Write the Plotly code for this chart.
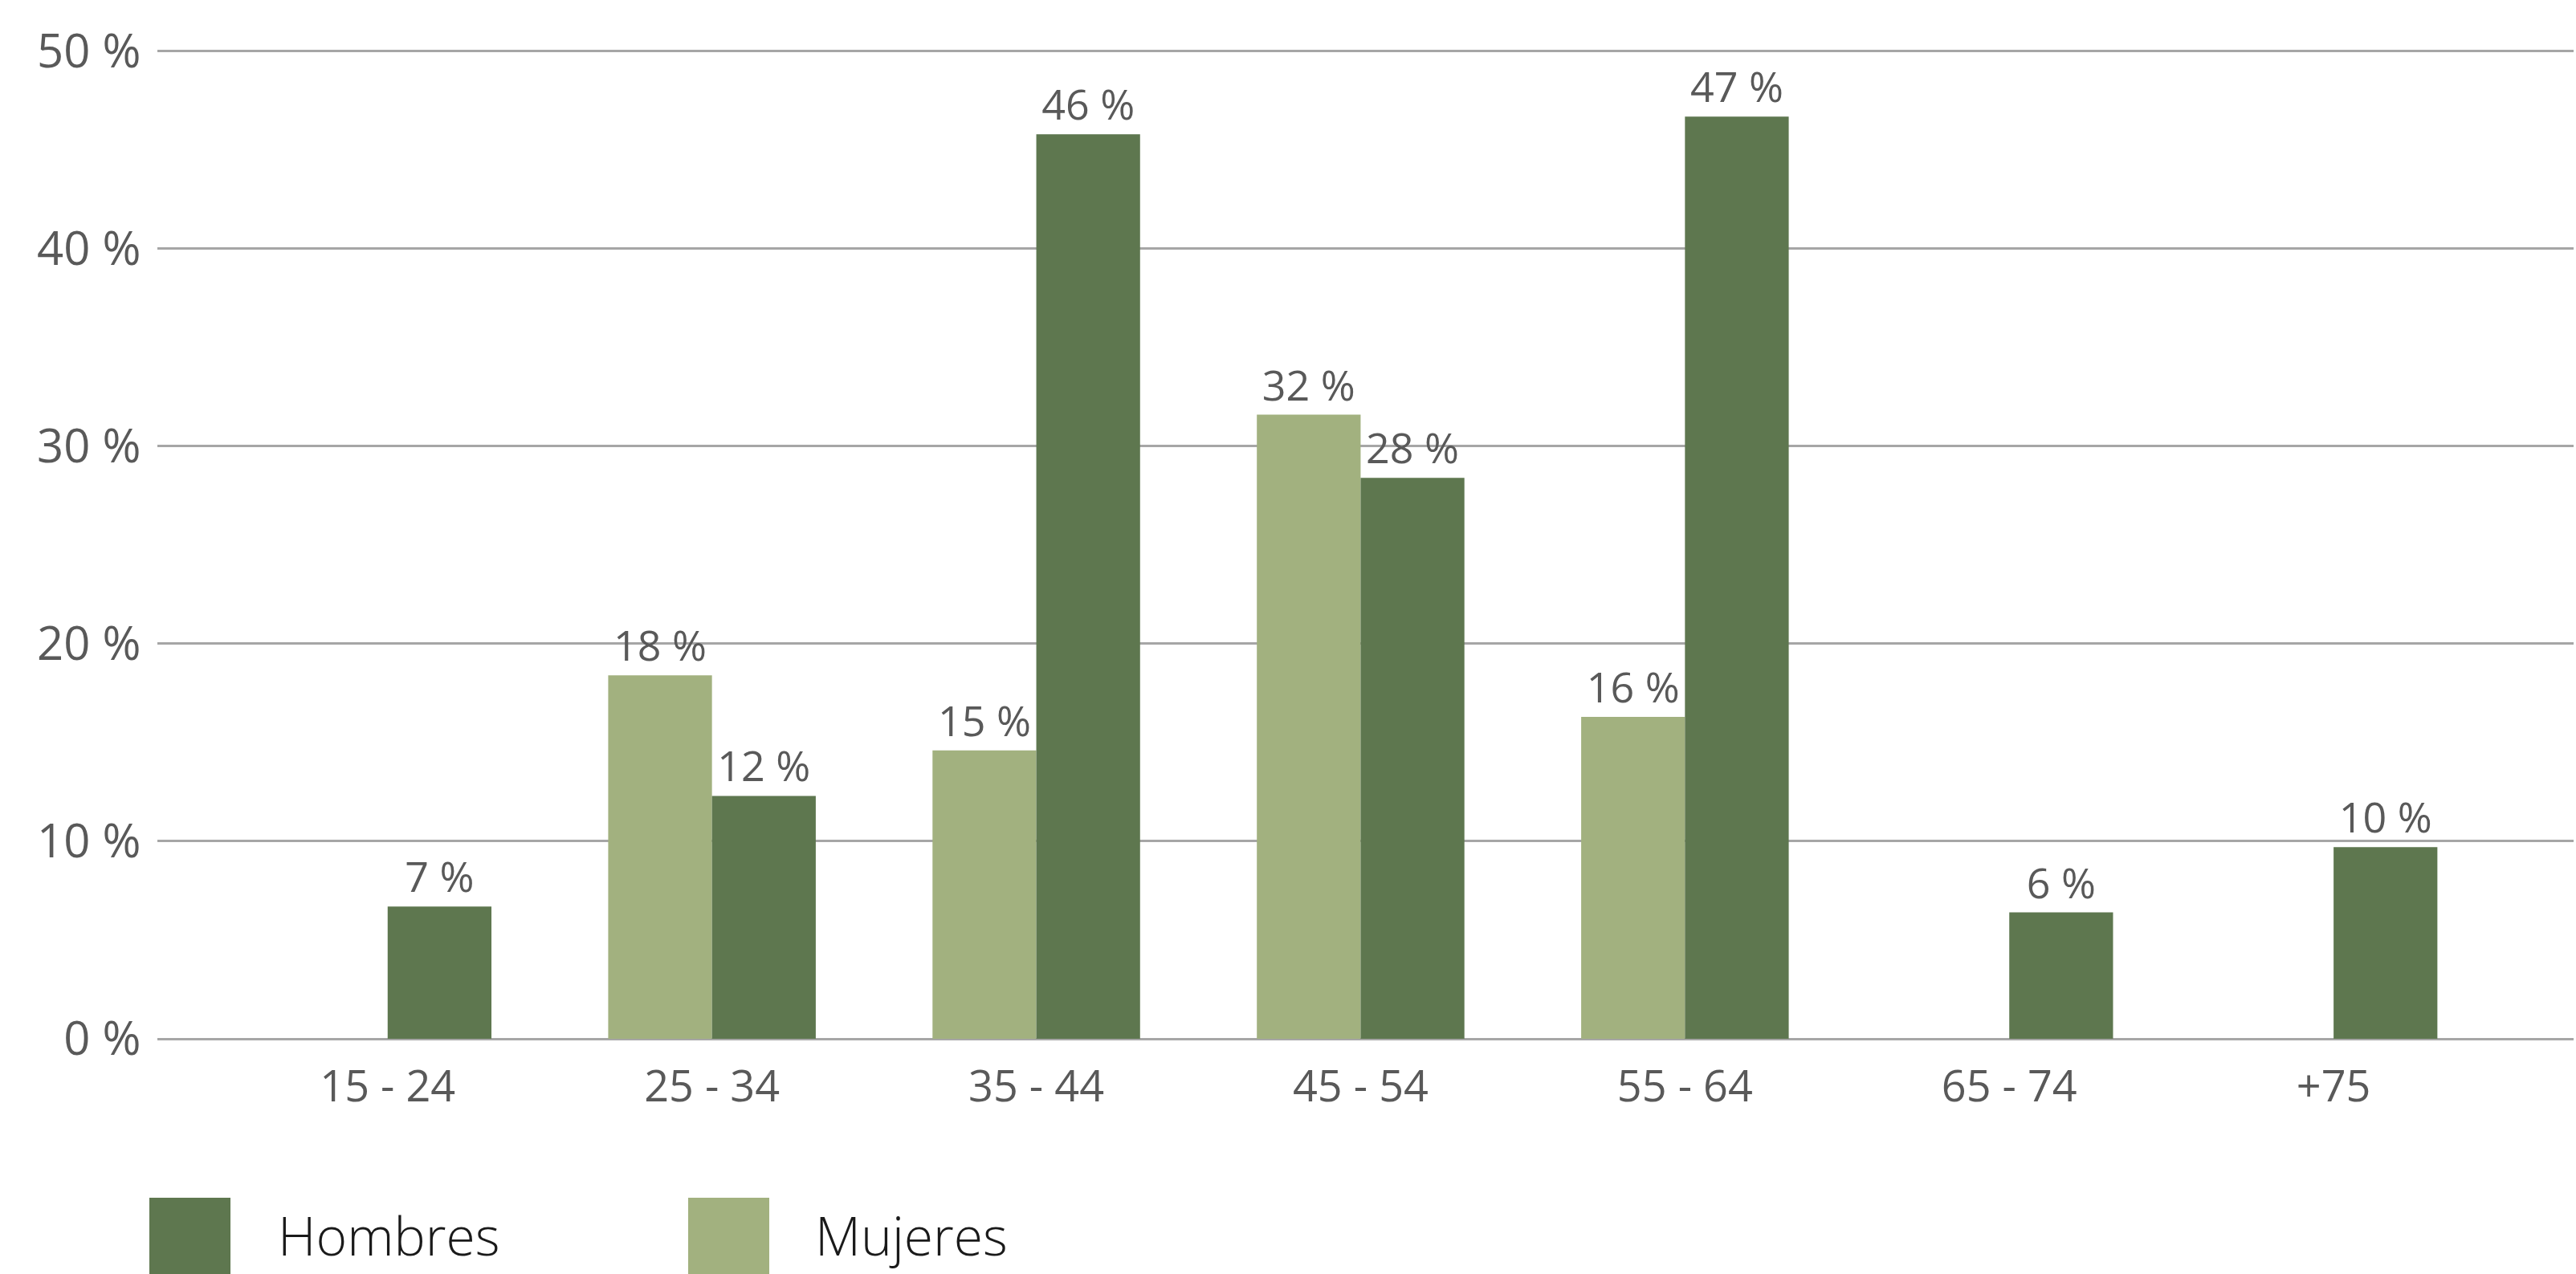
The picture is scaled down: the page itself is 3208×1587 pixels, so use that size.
import plotly.graph_objects as go

categories = ["15 - 24", "25 - 34", "35 - 44", "45 - 54", "55 - 64", "65 - 74", "+75"]
mujeres = [None, 18.4, 14.6, 31.6, 16.3, None, None]
hombres = [6.7, 12.3, 45.8, 28.4, 46.7, 6.4, 9.7]
y_ticks = [0, 10, 20, 30, 40, 50]
y_tick_labels = ["0 %", "10 %", "20 %", "30 %", "40 %", "50 %"]

DARK = "#5E774F"
LIGHT = "#A2B17F"
TEXT = "#595959"
FONT = "Open Sans"

def labels(vals):
    return [None if v is None else f"{round(v)} %" for v in vals]

W, H = 3208, 1587
ML, MR, MT, MB = 196, 3, 62, 293
YMAX = 50.08

fig = go.Figure()
fig.add_trace(go.Bar(name="Mujeres", x=categories, y=mujeres, marker_color=LIGHT,
                     marker_line_width=0, text=labels(mujeres), textposition="outside",
                     textfont=dict(family=FONT, size=52, color=TEXT), cliponaxis=False,
                     showlegend=False))
fig.add_trace(go.Bar(name="Hombres", x=categories, y=hombres, marker_color=DARK,
                     marker_line_width=0, text=labels(hombres), textposition="outside",
                     textfont=dict(family=FONT, size=52, color=TEXT), cliponaxis=False,
                     showlegend=False))

fig.update_layout(
    width=W, height=H,
    margin=dict(l=ML, r=MR, t=MT, b=MB, pad=0),
    paper_bgcolor="white", plot_bgcolor="white",
    barmode="group", bargap=0.36, bargroupgap=0,
    font=dict(family=FONT, color=TEXT),
    xaxis=dict(range=[-0.71, 6.74], showgrid=False, showline=False, zeroline=False,
               ticks="outside", ticklen=12, tickcolor="rgba(0,0,0,0)",
               tickfont=dict(family=FONT, size=54, color=TEXT)),
    yaxis=dict(range=[0, YMAX], tickvals=y_ticks, ticktext=y_tick_labels,
               showgrid=True, gridcolor="#A6A6A6", gridwidth=3,
               zeroline=True, zerolinecolor="#A6A6A6", zerolinewidth=3,
               showline=False, ticks="outside", ticklen=8, tickcolor="rgba(0,0,0,0)",
               tickfont=dict(family=FONT, size=58, color=TEXT)),
)

pw = W - ML - MR
ph = H - MT - MB

def px_x(p):
    return (p - ML) / pw

def px_y(p):
    return (H - MB - p) / ph

legend_items = [("Hombres", DARK, 186, 344), ("Mujeres", LIGHT, 857, 1013)]
for name, color, sx, tx in legend_items:
    fig.add_shape(type="rect", xref="paper", yref="paper",
                  x0=px_x(sx), x1=px_x(sx + 101), y0=px_y(1492), y1=px_y(1600),
                  fillcolor=color, line_width=0, layer="above")
    fig.add_annotation(xref="paper", yref="paper", x=px_x(tx), y=px_y(1538),
                       xanchor="left", yanchor="middle", showarrow=False, text=name,
                       font=dict(family=FONT, size=66, color="#1a1a1a", weight=300))

fig.write_html("out.html", config={"displayModeBar": False},
               post_script="document.body.style.margin='0';document.body.style.overflow='hidden';")
